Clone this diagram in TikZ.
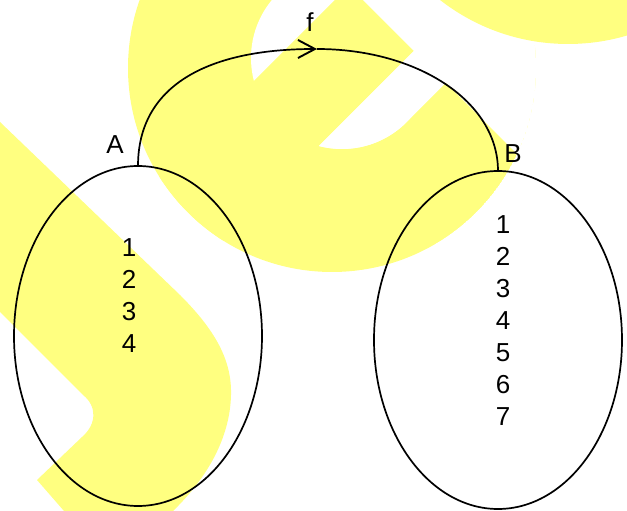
\documentclass[tikz,border=0pt]{standalone}
\usepackage{fontspec}
\setmainfont{Liberation Sans}
\usetikzlibrary{shapes.geometric,arrows.meta}
\definecolor{wm}{RGB}{255,255,128}
\begin{document}
\begin{tikzpicture}[x=1pt,y=1pt,
  setbox/.style={draw, line width=1.7pt, ellipse, inner sep=0pt, outer sep=0pt, minimum width=248pt, minimum height=340pt},
  lbl/.style={font=\fontsize{26}{32}\selectfont, inner sep=0pt},
  link/.style={line width=1.7pt}]
\useasboundingbox (0,0) rectangle (627,511);
% watermark
\begin{scope}
  \clip (0,0) rectangle (627,511);
  \begin{scope}
    \clip (332,443) circle[radius=204];
    \fill[wm] (332,443) circle[radius=204];
    \fill[white] (342,453) circle[radius=91];
    \fill[wm] (349,525) -- (414,460) -- (100,146) -- (35,211) -- cycle;
    \fill[white] (319,365) arc[start angle=-104.65, end angle=-45, radius=91] -- (445.8,428.2) -- (700,174) -- (700,911) -- (-37,911) -- (414,460) -- cycle;
  \end{scope}
  \fill[wm] (568,675) circle[radius=208];
  \fill[wm] (0,389) -- (180,216) .. controls (215,181) and (232,151) .. (231,116) .. controls (230,71) and (205,31) .. (173,0) -- (64,0) -- (37,31) -- (82,74) .. controls (97,87) and (97,105) .. (83,116) -- (0,199) -- cycle;
\end{scope}
% diagram
\node[setbox] (Aset) at (138,175) {};
\node[setbox, minimum height=338pt] (Bset) at (498,171) {};
\coordinate (ftop) at (317,462);
\draw[link, -{Straight Barb[length=17pt,width=18pt,line width=1.9pt]}] (Aset.north) .. controls +(0,80) and +(-110,0) .. (ftop);
\draw[link] (ftop) .. controls +(100,0) and +(0,70) .. (Bset.north);
\node[lbl] (fl) at (310,489) {f};
\node[lbl] (Al) at (115,366) {A};
\node[lbl] (Bl) at (513,357) {B};
\node[lbl, align=center] (Anums) at (129,215.5) {1\\2\\3\\4};
\node[lbl, align=center] (Bnums) at (503,190.5) {1\\2\\3\\4\\5\\6\\7};
\end{tikzpicture}
\end{document}
